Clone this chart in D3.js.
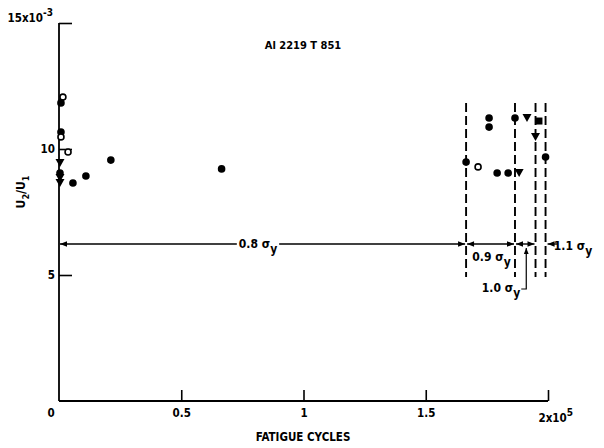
<!DOCTYPE html>
<html>
<head>
<meta charset="utf-8">
<script src="https://cdn.jsdelivr.net/npm/d3@7"></script>
<style>
  html, body { margin: 0; padding: 0; background: #fff; }
  svg { display: block; }
  text { font-family: "Liberation Sans Narrow", "DejaVu Sans Condensed", "Liberation Sans", sans-serif; font-weight: bold; fill: #000; }
</style>
</head>
<body>
<svg id="chart" width="604" height="448"></svg>
<script>
// Fatigue cycles (x 1e5) and displacement ratio U2/U1 (x 1e-3)
const cycles = [0.016, 0.008, 0.008, 0.008, 0.037, 0.004, 0.004, 0.004, 0.004, 0.057, 0.11, 0.212, 0.665,
                1.665, 1.714, 1.759, 1.759, 1.792, 1.837, 1.882, 1.865, 1.914, 1.963, 1.949, 1.99];
const ratio  = [12.06, 11.83, 10.67, 10.48, 9.88, 9.44, 9.05, 8.85, 8.65, 8.65, 8.93, 9.56, 9.21,
                9.48, 9.29, 11.23, 10.87, 9.05, 9.05, 9.05, 11.23, 11.23, 11.11, 10.48, 9.68];
const shapes = ["open", "filled", "filled", "open", "open", "tri", "filled", "tri", "tri", "filled", "filled", "filled", "filled",
                "filled", "open", "filled", "filled", "filled", "filled", "tri", "filled", "tri", "square", "tri", "filled"];

// Stress-level boundaries (cycles x 1e5) and the level line
const boundaries = [1.665, 1.865, 1.949, 1.99];
const boundaryTop = 11.83, boundaryBottom = 4.92;
const levelY = 6.23;
const levelLabels = ["0.8", "0.9", "1.0", "1.1"];

const xTicks = [0.5, 1, 1.5, 2];
const xTickLabels = ["0.5", "1", "1.5", "2x10"];
const yTicks = [5, 10, 15];
const yTickLabels = ["5", "10", "15x10"];

const svg = d3.select("#chart");
const x = d3.scaleLinear().domain([0, 2]).range([59, 548]);
const y = d3.scaleLinear().domain([0, 15]).range([401, 23]);

// x axis, ticks pointing up into the plot
const xAxis = svg.append("g")
  .attr("transform", `translate(0,${y(0)})`)
  .call(d3.axisBottom(x).tickValues(xTicks).tickSizeInner(-11).tickSizeOuter(0).tickPadding(6)
        .tickFormat((d, i) => xTickLabels[i]));
xAxis.select(".domain").attr("d", `M${x(0)},0H${x(2)}`).attr("stroke", "#000").attr("stroke-width", 1.8);
xAxis.selectAll(".tick line").attr("stroke", "#000").attr("stroke-width", 1.6);
xAxis.selectAll(".tick text").attr("font-size", 11.5).attr("dy", "0.9em");
xAxis.selectAll(".tick").filter(d => d === 2).select("text")
  .attr("text-anchor", "start").attr("dx", -10).attr("dy", "1.3em")
  .append("tspan").attr("dy", -6).attr("font-size", 10).text("5");
svg.append("text").attr("x", 51).attr("y", 417).attr("font-size", 11.5).attr("text-anchor", "middle").text("0");

// y axis, ticks pointing right into the plot
const yAxis = svg.append("g")
  .attr("transform", `translate(${x(0)},0)`)
  .call(d3.axisLeft(y).tickValues(yTicks).tickSizeInner(-13).tickSizeOuter(0).tickPadding(4)
        .tickFormat((d, i) => yTickLabels[i]));
yAxis.select(".domain").attr("d", `M0,${y(15)}V${y(0)}`).attr("stroke", "#000").attr("stroke-width", 1.8);
yAxis.selectAll(".tick line").attr("stroke", "#000").attr("stroke-width", 1.6);
yAxis.selectAll(".tick text").attr("font-size", 11.5);
yAxis.selectAll(".tick").filter(d => d === 15).select("text")
  .attr("x", -6).attr("dy", "-0.1em")
  .append("tspan").attr("dy", -6).attr("font-size", 10).text("-3");

// axis titles
svg.append("text").attr("x", 303).attr("y", 441).attr("text-anchor", "middle").attr("font-size", 11.5)
  .text("FATIGUE CYCLES");
const yl = svg.append("text").attr("transform", "translate(25,192) rotate(-90)")
  .attr("text-anchor", "middle").attr("font-size", 12);
yl.append("tspan").text("U");
yl.append("tspan").attr("dy", 4).attr("font-size", 9).text("2");
yl.append("tspan").attr("dy", -4).text("/U");
yl.append("tspan").attr("dy", 4).attr("font-size", 9).text("1");
svg.append("text").attr("x", 303).attr("y", 49).attr("text-anchor", "middle").attr("font-size", 11)
  .text("Al 2219 T 851");

// dashed boundaries between stress levels
svg.selectAll("line.bound").data(boundaries).join("line")
  .attr("class", "bound")
  .attr("x1", d => x(d)).attr("x2", d => x(d))
  .attr("y1", y(boundaryTop)).attr("y2", y(boundaryBottom))
  .attr("stroke", "#000").attr("stroke-width", 1.9).attr("stroke-dasharray", "9,4");

// level line with arrowheads
svg.append("defs").append("marker").attr("id", "arr")
  .attr("viewBox", "0 0 10 10").attr("refX", 10).attr("refY", 5)
  .attr("markerWidth", 6).attr("markerHeight", 5).attr("orient", "auto-start-reverse")
  .append("path").attr("d", "M0,1L10,5L0,9Z").attr("fill", "#000");
const ly = y(levelY);
const segs = [[0, boundaries[0]], [boundaries[0], boundaries[1]], [boundaries[1], boundaries[2]]];
segs.forEach(([a, b]) => {
  svg.append("line").attr("x1", x(a) + 1).attr("x2", x(b) - 1).attr("y1", ly).attr("y2", ly)
    .attr("stroke", "#000").attr("stroke-width", 1.4)
    .attr("marker-start", "url(#arr)").attr("marker-end", "url(#arr)");
});
svg.append("line").attr("x1", x(boundaries[3]) + 12).attr("x2", x(boundaries[3]) + 2).attr("y1", ly).attr("y2", ly)
  .attr("stroke", "#000").attr("stroke-width", 1.4).attr("marker-end", "url(#arr)");

function sigmaLabel(cx, cy, lvl, bg) {
  const g = svg.append("g");
  const t = g.append("text").attr("x", cx).attr("y", cy).attr("font-size", 12).attr("text-anchor", "middle");
  t.append("tspan").text(lvl + " σ");
  t.append("tspan").attr("dy", 5).text("y");
  if (bg) {
    const bb = t.node().getBBox();
    g.insert("rect", "text").attr("x", bb.x - 2).attr("y", ly - 3).attr("width", bb.width + 4).attr("height", 6).attr("fill", "#fff");
  }
}
sigmaLabel(258, ly + 4, levelLabels[0], true);
sigmaLabel((x(boundaries[0]) + x(boundaries[1])) / 2 + 1, ly + 17, levelLabels[1], false);
sigmaLabel(501, ly + 48, levelLabels[2], false);
sigmaLabel(573, ly + 6, levelLabels[3], false);

// leader from the 1.0 label up to its segment
const lx = (x(boundaries[1]) + x(boundaries[2])) / 2 + 1;
svg.append("path").attr("d", `M${lx - 5},${ly + 45}H${lx}V${ly + 4}`)
  .attr("fill", "none").attr("stroke", "#000").attr("stroke-width", 1.2).attr("marker-end", "url(#arr)");

// data points
const pts = svg.append("g");
cycles.forEach((c, i) => {
  const px = x(c), py = y(ratio[i]), s = shapes[i];
  if (s === "filled") {
    pts.append("circle").attr("cx", px).attr("cy", py).attr("r", 3.8).attr("fill", "#000");
  } else if (s === "open") {
    pts.append("circle").attr("cx", px).attr("cy", py).attr("r", 3).attr("fill", "#fff")
      .attr("stroke", "#000").attr("stroke-width", 1.6);
  } else if (s === "tri") {
    pts.append("path").attr("d", `M${px - 4.5},${py - 4}L${px + 4.5},${py - 4}L${px},${py + 4}Z`).attr("fill", "#000");
  } else if (s === "square") {
    pts.append("rect").attr("x", px - 3.5).attr("y", py - 3.5).attr("width", 7).attr("height", 7).attr("fill", "#000");
  }
});
</script>
</body>
</html>
